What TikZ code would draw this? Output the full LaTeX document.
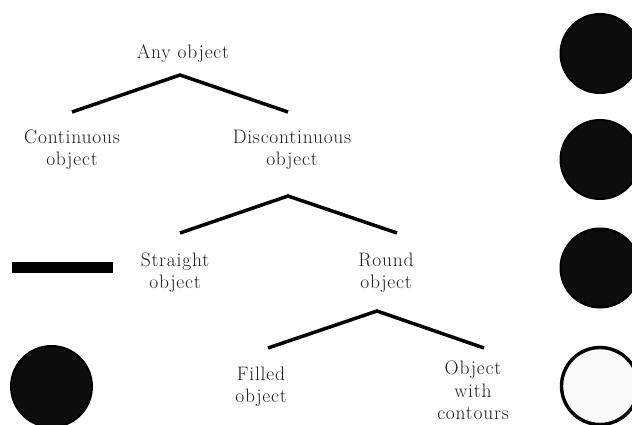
\documentclass[tikz,border=0pt]{standalone}
\usepackage{fontspec}
\setmainfont{lmroman17-regular}[Extension=.otf,LetterSpace=4]
\begin{document}
\begin{tikzpicture}[x=1pt,y=-1pt,
  lbl/.style={align=center,inner sep=0pt,anchor=north,text=black!88,font=\fontsize{19.5}{22.5}\selectfont},
  branch/.style={line width=3.5pt,black},
  disc/.style={draw=black,line width=2pt,fill=black!95},
  ring/.style={draw=black,line width=3.4pt,fill=white!98!black}]
\useasboundingbox (0,0) rectangle (632,424);
\clip (0,0) rectangle (632,424);
% texts
\node[lbl] (any) at (183,45) {Any object};
\node[lbl] (cont) at (72,129.5) {Continuous\\object};
\node[lbl] (disc) at (292,129.5) {Discontinuous\\object};
\node[lbl] (str) at (175,252.5) {Straight\\object};
\node[lbl] (rnd) at (386,252.5) {Round\\object};
\node[lbl] (fill) at (261,366.5) {Filled\\object};
\node[lbl] (cont2) at (473,361) {Object\\with\\contours};
% branch points
\coordinate (a1) at (180,75);
\coordinate (l1) at (72,112);
\coordinate (r1) at (288,112);
\coordinate (a2) at (288,196);
\coordinate (l2) at (180,233);
\coordinate (r2) at (397,233);
\coordinate (a3) at (377,311);
\coordinate (l3) at (268,348);
\coordinate (r3) at (484,348);
\draw[branch] (l1) -- (a1) -- (r1);
\draw[branch] (l2) -- (a2) -- (r2);
\draw[branch] (l3) -- (a3) -- (r3);
% shapes
\fill[black] (12,262) rectangle (113,273);
\draw[disc] (51.5,386.5) circle (40.5);
\draw[disc] (600,53.5) circle (39.5);
\draw[disc] (600,159.5) circle (39.5);
\draw[disc] (600,268) circle (39.5);
\draw[ring] (600,386) circle (38.5);
\end{tikzpicture}
\end{document}
